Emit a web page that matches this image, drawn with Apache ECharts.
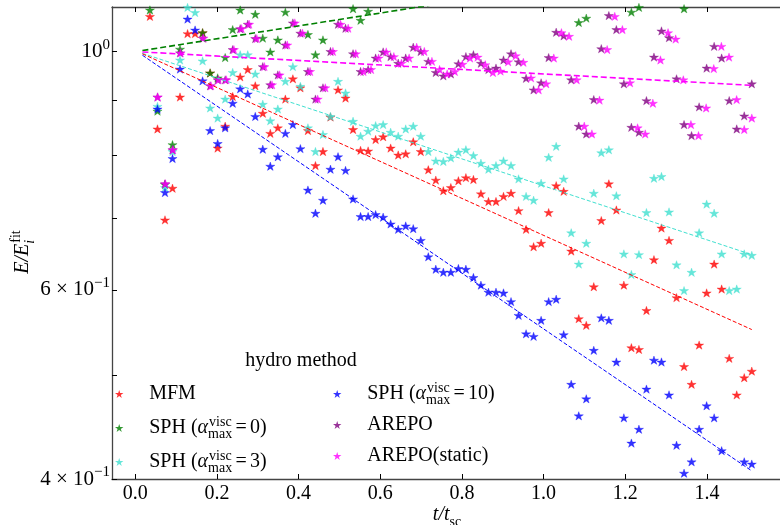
<!DOCTYPE html>
<html><head><meta charset="utf-8">
<script src="https://cdn.jsdelivr.net/npm/echarts@6/dist/echarts.min.js"></script>
<style>html,body{margin:0;padding:0;background:#fff}#c{width:780px;height:525px}</style>
</head><body><div id="c"></div>
<script>
// ---- data ----
const times = [0.0359,0.0544,0.0728,0.0912,0.1096,0.1281,0.1465,0.1649,0.1833,0.2018,
0.2202,0.2386,0.2570,0.2755,0.2939,0.3123,0.3307,0.3492,0.3676,0.3860,
0.4044,0.4229,0.4413,0.4597,0.4781,0.4966,0.5150,0.5334,0.5518,0.5703,
0.5887,0.6071,0.6255,0.6440,0.6624,0.6808,0.6992,0.7177,0.7361,0.7545,
0.7729,0.7914,0.8098,0.8282,0.8466,0.8651,0.8835,0.9019,0.9203,0.9388,
0.9572,0.9756,0.9940,1.0125,1.0309,1.0493,1.0677,1.0862,1.1046,1.1230,
1.1414,1.1599,1.1783,1.1967,1.2151,1.2336,1.2520,1.2704,1.2888,1.3073,
1.3257,1.3441,1.3625,1.3810,1.3994,1.4178,1.4362,1.4547,1.4731,1.4915,1.5100];
const timesStatic = [0.0364,0.0550,0.0737,0.0923,0.1110,0.1297,0.1483,0.1670,0.1856,0.2043,
0.2230,0.2416,0.2603,0.2789,0.2976,0.3162,0.3349,0.3535,0.3722,0.3908,
0.4095,0.4281,0.4468,0.4654,0.4841,0.5028,0.5214,0.5401,0.5587,0.5774,
0.5960,0.6147,0.6333,0.6520,0.6707,0.6893,0.7079,0.7266,0.7453,0.7639,
0.7826,0.8012,0.8199,0.8385,0.8572,0.8759,0.8945,0.9132,0.9318,0.9505,
0.9692,0.9878,1.0064,1.0251,1.0438,1.0624,1.0810,1.0997,1.1184,1.1370,
1.1557,1.1744,1.1930,1.2117,1.2303,1.2490,1.2677,1.2863,1.3049,1.3236,
1.3423,1.3609,1.3795,1.3982,1.4169,1.4355,1.4542,1.4729,1.4915,1.5101];

const mfm = [1.078,0.847,0.697,0.746,0.907,1.039,1.039,1.041,0.955,0.813,
0.852,0.908,0.947,0.962,0.929,0.876,0.839,0.849,0.903,0.943,
0.925,0.844,0.783,0.807,0.869,0.921,0.905,0.846,0.809,0.808,
0.828,0.833,0.813,0.801,0.803,0.824,0.807,0.776,0.759,0.742,
0.747,0.758,0.763,0.760,0.737,0.725,0.725,0.733,0.738,0.711,
0.683,0.658,0.663,0.708,0.750,0.741,0.652,0.564,0.556,0.604,
0.696,0.753,0.712,0.606,0.530,0.528,0.574,0.640,0.685,0.667,
0.590,0.509,0.490,0.533,0.596,0.634,0.601,0.518,0.479,0.497,0.504];

const sph0 = [1.093,0.880,0.752,0.819,1.005,null,null,1.041,0.955,0.945,
0.987,1.048,1.093,null,1.083,1.029,0.999,1.025,1.088,null,
null,1.037,0.993,1.025,null,null,null,1.096,1.069,1.090,
null,null,null,null,null,null,null,null,null,null,
null,null,null,null,null,null,null,null,null,null,
null,null,null,null,null,null,null,1.064,1.074,null,
null,null,null,null,1.088,1.099,null,null,null,null,
null,1.096,null,null,null,null,null,null,null,null,null];

const sph3 = [null,0.889,0.747,0.807,0.982,1.099,1.087,0.980,0.886,0.867,
0.903,0.956,0.993,0.993,0.953,0.893,0.862,0.884,0.938,0.968,
0.928,0.849,0.807,0.837,0.870,0.938,0.915,0.861,0.834,0.843,
0.853,0.855,0.841,0.834,0.847,0.852,0.834,0.807,0.791,0.790,
0.796,0.806,0.810,0.800,0.787,0.777,0.783,0.791,0.783,0.761,
0.733,0.727,0.754,0.797,0.816,0.761,0.678,0.634,0.663,0.738,
0.805,0.810,0.734,0.648,0.620,0.647,0.708,0.762,0.765,0.709,
0.633,0.599,0.623,0.678,0.721,0.707,0.648,0.599,0.601,0.648,0.646];

const sph10 = [null,0.884,0.739,0.795,0.963,1.072,1.047,0.939,0.844,0.821,
0.849,0.895,0.923,0.913,0.870,0.811,0.782,0.798,0.839,0.855,
0.812,0.743,0.707,0.727,0.777,0.798,0.775,0.729,0.702,0.702,
0.705,0.701,0.691,0.683,0.688,0.684,0.667,0.644,0.627,0.623,
0.623,0.628,0.627,0.616,0.606,0.597,0.597,0.596,0.585,0.568,
0.546,0.543,0.562,0.585,0.588,0.545,0.490,0.458,0.475,0.527,
0.565,0.562,0.514,0.456,0.432,0.445,0.485,0.516,0.514,0.479,
0.430,0.405,0.415,0.445,0.468,0.456,0.425,null,null,0.415,0.413];

const arepo = [null,0.907,0.753,0.810,0.997,null,null,1.029,0.929,0.941,
0.941,1.004,1.050,1.060,1.028,0.968,0.931,0.951,1.014,1.063,
1.040,0.958,0.903,0.925,1.000,1.060,1.051,0.995,0.958,0.962,
0.986,0.999,0.989,0.975,0.986,1.009,1.000,0.979,0.956,0.949,
0.953,0.974,0.989,0.993,0.975,0.962,0.965,0.982,0.995,0.978,
0.944,0.921,0.935,0.987,1.042,1.034,0.941,0.852,0.838,0.902,
1.006,1.080,1.048,0.933,0.850,0.841,0.900,0.988,1.045,1.030,
0.943,0.855,0.835,0.888,0.965,1.011,0.986,0.900,0.847,0.871,0.933];

const arepoStatic = [null,0.907,0.753,0.810,0.997,null,null,1.029,0.929,0.941,
0.941,1.004,1.050,1.060,1.028,0.968,0.931,0.951,1.014,1.063,
1.040,0.958,0.903,0.925,1.000,1.060,1.051,0.995,0.958,0.962,
0.986,0.999,0.989,0.975,0.986,1.009,1.000,0.979,0.962,0.953,
0.958,0.973,0.986,0.988,0.972,0.956,0.959,0.978,0.991,0.977,
0.945,0.921,0.933,0.986,1.041,1.033,0.941,0.852,0.838,0.901,
1.004,1.078,1.048,0.935,0.849,0.838,0.895,0.982,1.041,1.027,
0.941,0.855,0.835,0.886,0.964,1.011,0.988,0.902,0.846,0.867];

// exponential fits (two end points each)
const fitT = [0.0175, 1.51];
const fitMFM = [0.995, 0.551];
const fitSPH0 = [1.002, 1.231];
const fitSPH3 = [0.996, 0.647];
const fitSPH10 = [0.992, 0.407];
const fitAREPO = [0.999, 0.930];

const xTicks = [0.0, 0.2, 0.4, 0.6, 0.8, 1.0, 1.2, 1.4];
const yLabelTicks = [0.4, 0.6, 1.0];
const yAllTicks = [0.4, 0.5, 0.6, 0.7, 0.8, 0.9, 1.0];

// ---- drawing ----
const STAR = 'path://M50,0 L61.23,34.55 L97.55,34.55 L68.17,55.9 L79.39,90.45 L50,69.1 L20.61,90.45 L31.83,55.9 L2.45,34.55 L38.77,34.55 Z';
const FONT = 'Liberation Serif';
const C = {mfm:'#ff0000', sph0:'#008000', sph3:'#40e0d0', sph10:'#0000ff', arepo:'#800080', stat:'#ff00ff'};

function pts(ts, vs) { const o = []; for (let i = 0; i < vs.length; i++) if (vs[i] != null) o.push([ts[i], vs[i]]); return o; }
function sc(name, ts, vs, color) {
  return {name, type:'scatter', data: pts(ts, vs), symbol: STAR, symbolSize: [9.2, 8.8], symbolKeepAspect: true,
    itemStyle: {color, borderColor: color, borderWidth: 0.4}, silent: true, clip: true, z: 2};
}
function fit(vals, color, width, dash) {
  return {type:'line', data: fitT.map((t, i) => [t, vals[i]]), symbol:'none', showSymbol:false,
    lineStyle: {color, width, type: dash}, silent: true, clip: true, z: 3};
}

const axisLineStyle = {color:'#444', width:1.3};
const rt = (o) => Object.assign({fontFamily: FONT, color:'#000', align:'left'}, o);
const legendRich = {
  t: rt({fontSize:20, lineHeight:26}),
  a: rt({fontSize:20, lineHeight:26, fontStyle:'italic'}),
  sb: rt({fontSize:14, lineHeight:16, verticalAlign:'bottom', width:1}),
  sp: rt({fontSize:14, lineHeight:12, verticalAlign:'top'}),
  eq: rt({fontSize:20, lineHeight:26, padding:[0,3,0,4]})
};
const legendText = {
  'MFM': '{t|MFM}',
  'SPH0': '{t|SPH (}{a|α}{sb|max}{sp|visc}{eq|=}{t|0)}',
  'SPH3': '{t|SPH (}{a|α}{sb|max}{sp|visc}{eq|=}{t|3)}',
  'SPH10': '{t|SPH (}{a|α}{sb|max}{sp|visc}{eq|=}{t|10)}',
  'AREPO': '{t|AREPO}',
  'AREPO(static)': '{t|AREPO(static)}'
};
function legend(names, left, gap) {
  return {orient:'vertical', left, top: 381, itemGap: gap, itemWidth: 50, itemHeight: 8, padding: 0,
    selectedMode: false, symbolKeepAspect: true,
    itemStyle: {borderWidth: 0},
    data: names.map(n => ({name: n, icon: STAR})),
    formatter: n => legendText[n],
    textStyle: {fontFamily: FONT, fontSize: 20, lineHeight: 26, color:'#000', rich: legendRich}};
}

const chart = echarts.init(document.getElementById('c'), null, {renderer:'canvas'});
chart.setOption({
  animation: false,
  backgroundColor: '#fff',
  textStyle: {fontFamily: FONT},
  title: {text: 'hydro method', left: 301, top: 351, textAlign: 'center', padding: 0,
    textStyle: {fontFamily: FONT, fontSize: 20, fontWeight: 'normal', color: '#000'}},
  legend: [legend(['MFM','SPH0','SPH3'], 115, 8), legend(['SPH10','AREPO','AREPO(static)'], 333, 5)],
  grid: {left: 112, right: -2, top: 7, bottom: 46, containLabel: false, outerBoundsMode: 'none'},
  xAxis: [
    {type:'value', min:-0.057, max:1.584, position:'bottom',
      axisLine:{show:true, onZero:false, lineStyle: axisLineStyle},
      axisTick:{show:true, inside:true, length:5, customValues: xTicks, lineStyle:{color:'#000', width:1}},
      axisLabel:{show:true, customValues: xTicks, formatter: v => v.toFixed(1), margin: 5,
        fontFamily: FONT, fontSize: 20, color:'#000'},
      splitLine:{show:false},
      name: '{i|t/t}{s|sc}', nameLocation:'middle', nameGap: 22, nameMoveOverlap: false,
      nameTextStyle:{rich:{
        i: rt({fontSize:20, lineHeight:28, fontStyle:'italic'}),
        s: rt({fontSize:14, lineHeight:16, verticalAlign:'bottom'})}}},
    {type:'value', min:-0.057, max:1.584, position:'top',
      axisLine:{show:true, onZero:false, lineStyle: axisLineStyle},
      axisTick:{show:true, inside:true, length:5, customValues: xTicks, lineStyle:{color:'#000', width:1}},
      axisLabel:{show:false}, splitLine:{show:false}}
  ],
  yAxis: [
    {type:'log', logBase:10, min:0.4, max:1.1, position:'left',
      axisLine:{show:true, onZero:false, lineStyle: axisLineStyle},
      axisTick:{show:true, inside:true, length:5, customValues: yAllTicks, lineStyle:{color:'#000', width:1}},
      axisLabel:{show:true, customValues: yLabelTicks, margin: 2,
        formatter: v => Math.abs(v-1) < 1e-6 ? '{b|10}{s|0}' :
          (Math.abs(v-0.6) < 1e-6 ? '{b|6 × 10}{s|−1}' :
          (Math.abs(v-0.4) < 1e-6 ? '{b|4 × 10}{s|−1}' : '')),
        rich:{ b: rt({fontSize:21, lineHeight:28}), s: rt({fontSize:15, lineHeight:14, verticalAlign:'top'}) }},
      splitLine:{show:false}, minorTick:{show:false},
      name: '{i|E/E}{sb|i}{sp|fit}', nameLocation:'middle', nameRotate: 90, nameGap: 75, nameMoveOverlap: false,
      nameTextStyle:{padding:[0,18,0,0], rich:{
        i: rt({fontSize:20, lineHeight:28, fontStyle:'italic'}),
        sb: rt({fontSize:14, lineHeight:16, verticalAlign:'bottom', fontStyle:'italic', width:1}),
        sp: rt({fontSize:14, lineHeight:13, verticalAlign:'top'})}}}
  ],
  series: [
    sc('MFM', times, mfm, C.mfm),
    sc('SPH0', times, sph0, C.sph0),
    sc('SPH3', times, sph3, C.sph3),
    sc('SPH10', times, sph10, C.sph10),
    sc('AREPO', times, arepo, C.arepo),
    sc('AREPO(static)', timesStatic, arepoStatic, C.stat),
    fit(fitSPH0, C.sph0, 1.6, [6,3]),
    fit(fitAREPO, C.stat, 1.6, [6,3]),
    fit(fitSPH3, C.sph3, 1.0, [4,2]),
    fit(fitMFM, C.mfm, 1.0, [4,2]),
    fit(fitSPH10, C.sph10, 1.0, [4,2])
  ]
});
</script></body></html>
